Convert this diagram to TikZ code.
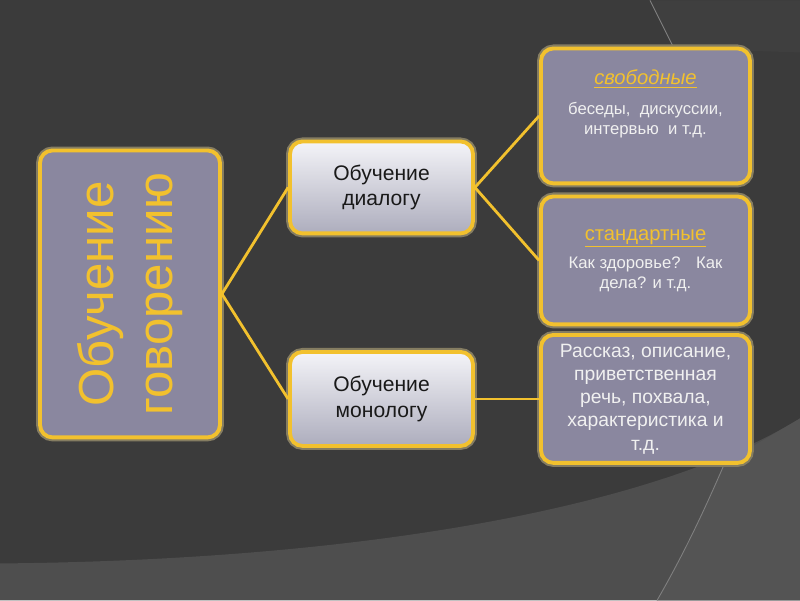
\documentclass[tikz,border=0pt]{standalone}
\usepackage{fontspec}
\setmainfont{Liberation Sans}
\usetikzlibrary{positioning}

\definecolor{slideBg}{HTML}{3B3B3B}
\definecolor{slideBgLight}{HTML}{4E4E4E}
\definecolor{slideBgLighter}{HTML}{545454}
\definecolor{slideBgTop}{HTML}{3F3F3F}
\definecolor{cardFill}{HTML}{8A879F}
\definecolor{cardLine}{HTML}{F2C12E}
\definecolor{cardGlow}{HTML}{857D62}
\definecolor{plateTop}{HTML}{F4F4F8}
\definecolor{plateBottom}{HTML}{ADADBD}

\newcommand{\bigTextSty}{\fontsize{28}{34}\selectfont}
\newcommand{\midTextSty}{\fontsize{12}{14.5}\selectfont}
\newcommand{\bodyTextSty}{\fontsize{9.5}{11.2}\selectfont}
\newcommand{\storyTextSty}{\fontsize{11}{13.2}\selectfont}
\newcommand{\headSty}[1]{{\fontsize{11.5}{14}\selectfont\textcolor{cardLine}{\underline{#1}}}}

\begin{document}
\begin{tikzpicture}[x=0.02cm, y=-0.02cm,
    card/.style={draw=cardLine, line width=2.2pt, rounded corners=0.25cm, fill=cardFill,
        preaction={draw=cardGlow, line width=4.5pt, rounded corners=0.25cm}, inner sep=0pt},
    plate/.style={card, top color=plateTop, bottom color=plateBottom, text=black!90, align=center, font=\midTextSty},
    link/.style={draw=cardLine, line width=1.6pt}]

    % slide background
    \fill[slideBg] (0,0) rectangle (800,600);
    \fill[slideBgTop] (650,0) -- (674,48) -- (800,52) -- (800,0) -- cycle;
    \draw[black!50, line width=0.5pt] (650,0) -- (674,48);
    \fill[slideBgLight] (0,563) .. controls (350,560) and (650,510) .. (800,418) -- (800,600) -- (0,600) -- cycle;
    \fill[slideBgLighter] (725,462) .. controls (700,520) and (680,560) .. (657,600) -- (800,600) -- (800,418) -- cycle;
    \draw[black!50, line width=0.5pt] (725,462) .. controls (700,520) and (680,560) .. (657,600);
    \useasboundingbox (0,0) rectangle (800,600);

    % main card
    \node[card, rotate=90, minimum width=5.74cm, minimum height=3.6cm, text=cardLine, align=center, font=\bigTextSty]
        (talk) at (130,293.5) {Обучение\\говорению};

    % second column
    \node[plate, minimum width=3.66cm, minimum height=1.84cm] (dialog) at (381.5,187) {Обучение\\диалогу};
    \node[plate, minimum width=3.66cm, minimum height=1.88cm] (monolog) at (381.5,398.5) {Обучение\\монологу};

    % third column
    \node[card, minimum width=4.18cm, minimum height=2.7cm] (free) at (645.5,115.5) {};
    \node[anchor=north, align=center, text=white!94!black, font=\bodyTextSty] (freeText) at ([yshift=-0.34cm]free.north)
        {\headSty{\textit{свободные}}\\[6pt] беседы,~ дискуссии,\\интервью~ и т.д.};
    \node[card, minimum width=4.18cm, minimum height=2.56cm, align=center, text=white!94!black, font=\bodyTextSty]
        (std) at (645.5,260) {\headSty{стандартные}\\[5pt] Как здоровье?~~ Как\\дела? и т.д.};
    \node[card, minimum width=4.18cm, minimum height=2.56cm, align=center, text=white!94!black, font=\storyTextSty]
        (story) at (645.5,398.5) {Рассказ, описание,\\приветственная\\речь, похвала,\\характеристика и\\т.д.};

    % connectors
    \draw[link] (talk.south) -- (dialog.west);
    \draw[link] (talk.south) -- (monolog.west);
    \draw[link] (dialog.east) -- (free.west);
    \draw[link] (dialog.east) -- (std.west);
    \draw[link] (monolog.east) -- (story.west);

\end{tikzpicture}
\end{document}
